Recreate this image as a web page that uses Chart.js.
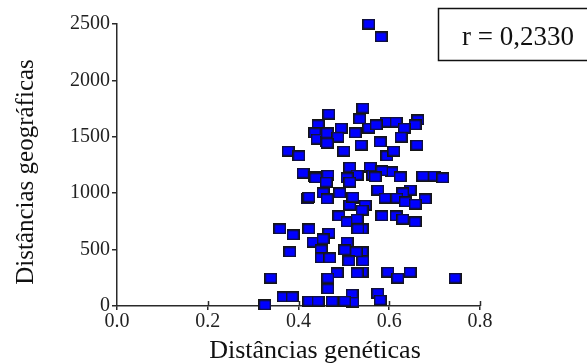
<!DOCTYPE html>
<html>
<head>
<meta charset="utf-8">
<script src="https://cdn.jsdelivr.net/npm/chart.js@4/dist/chart.umd.min.js"></script>
<style>
html,body{margin:0;padding:0;background:#fff;}
#wrap{width:587px;height:363px;position:relative;}
</style>
</head>
<body>
<div id="wrap"><canvas id="c" width="587" height="363"></canvas></div>
<script>
// Data
const genDist = [0.555,0.582,0.467,0.542,0.535,0.443,0.436,0.494,0.525,0.555,
  0.441,0.461,0.500,0.538,0.580,0.593,0.615,0.377,0.401,0.595,
  0.610,0.410,0.436,0.465,0.513,0.558,0.529,0.564,0.606,0.663,
  0.657,0.633,0.626,0.661,0.584,0.674,0.699,0.718,0.569,0.624,
  0.646,0.630,0.575,0.591,0.617,0.679,0.635,0.657,0.547,0.540,
  0.584,0.615,0.630,0.657,0.540,0.540,0.542,0.540,0.597,0.619,
  0.646,0.745,0.575,0.580,0.419,0.454,0.463,0.491,0.518,0.513,
  0.489,0.507,0.529,0.531,0.359,0.388,0.423,0.467,0.432,0.454,
  0.381,0.450,0.450,0.469,0.507,0.502,0.527,0.511,0.485,0.465,
  0.529,0.339,0.465,0.518,0.520,0.366,0.386,0.423,0.443,0.474,
  0.502,0.326,0.463,0.487,0.463,0.438,0.461,0.507,0.513,0.423,
  0.520,0.571];
const geoDist = [2500,2385,1702,1755,1658,1605,1534,1578,1534,1578,
  1480,1454,1374,1427,1454,1631,1631,1374,1330,1330,
  1374,1179,1144,1161,1232,1232,1161,1161,1188,1649,
  1605,1578,1498,1427,1197,1152,1152,1135,1144,1144,
  1028,1002,1028,957,957,949,922,904,895,851,
  798,798,771,745,683,479,399,301,301,248,
  301,248,115,53,949,1002,949,1002,957,895,
  798,745,771,683,683,630,683,647,567,594,
  479,497,426,426,567,497,479,399,293,248,
  293,248,151,106,35,80,80,44,44,44,
  44,9,1534,1498,1445,1135,1099,1135,1099,966,
  966,1605];
const xTickValues = [0, 0.2, 0.4, 0.6, 0.8];
const xTickLabels = ['0.0', '0.2', '0.4', '0.6', '0.8'];
const yTickValues = [0, 500, 1000, 1500, 2000, 2500];
const yTickLabels = ['0', '500', '1000', '1500', '2000', '2500'];
const xTitle = 'Distâncias genéticas';
const yTitle = 'Distâncias geográficas';
const corrText = 'r = 0,2330';

// square marker image
const marker = document.createElement('canvas');
marker.width = 13; marker.height = 11;
(function(){
  const m = marker.getContext('2d');
  m.fillStyle = '#0000ff';
  m.fillRect(0, 0, 13, 11);
  m.strokeStyle = '#151515';
  m.lineWidth = 1.5;
  m.strokeRect(0.75, 0.75, 11.5, 9.5);
})();

const points = genDist.map((x, i) => ({x: x, y: geoDist[i]}));
const axisColor = '#2a2a2a';
const serif = '"Liberation Serif", "Times New Roman", serif';

const extras = {
  id: 'extras',
  afterDraw(chart) {
    const ctx = chart.ctx;
    const xs = chart.scales.x;
    const area = chart.chartArea;
    ctx.save();
    // upper half of the crossing x ticks
    ctx.strokeStyle = axisColor;
    ctx.lineWidth = 1.5;
    xTickValues.forEach(v => {
      if (v === 0) return;
      const px = Math.round(xs.getPixelForValue(v)) + 0.5;
      ctx.beginPath();
      ctx.moveTo(px, area.bottom - 5);
      ctx.lineTo(px, area.bottom);
      ctx.stroke();
    });
    // axis titles
    ctx.fillStyle = '#111';
    ctx.font = '26px ' + serif;
    ctx.textAlign = 'center';
    ctx.textBaseline = 'alphabetic';
    ctx.fillText(xTitle, 315, 358);
    ctx.save();
    ctx.translate(33, 172);
    ctx.rotate(-Math.PI / 2);
    ctx.font = '25px ' + serif;
    ctx.fillText(yTitle, 0, 0);
    ctx.restore();
    // correlation box
    ctx.strokeStyle = '#111';
    ctx.lineWidth = 1.5;
    ctx.strokeRect(438.5, 8.5, 170, 52);
    ctx.font = '27px ' + serif;
    ctx.textAlign = 'left';
    ctx.fillText(corrText, 462, 45);
    ctx.restore();
  }
};

new Chart(document.getElementById('c'), {
  type: 'scatter',
  data: {
    datasets: [{
      data: points,
      pointStyle: marker,
      pointRadius: 6,
      pointHoverRadius: 6,
      backgroundColor: '#0000ff',
      borderColor: '#151515',
      clip: false
    }]
  },
  options: {
    responsive: false,
    animation: false,
    events: [],
    layout: { padding: { left: 0, top: 24, right: 107, bottom: 0 } },
    plugins: { legend: { display: false }, tooltip: { enabled: false } },
    scales: {
      x: {
        type: 'linear',
        min: 0, max: 0.8,
        afterFit(s) { s.height = 57; },
        afterBuildTicks(s) { s.ticks = xTickValues.map(v => ({value: v})); },
        ticks: {
          padding: 0,
          color: '#222',
          font: { family: serif, size: 20 },
          maxRotation: 0,
          callback: (v) => { const i = xTickValues.indexOf(v); return i >= 0 ? xTickLabels[i] : ''; }
        },
        grid: { drawOnChartArea: false, drawTicks: true, tickLength: 4, color: axisColor, lineWidth: 1.5 },
        border: { display: true, color: axisColor, width: 1.5 }
      },
      y: {
        type: 'linear',
        min: 0, max: 2500,
        afterFit(s) { s.width = 117; },
        afterBuildTicks(s) { s.ticks = yTickValues.map(v => ({value: v})); },
        ticks: {
          padding: 2,
          color: '#222',
          font: { family: serif, size: 20 },
          callback: (v) => { const i = yTickValues.indexOf(v); return i >= 0 ? yTickLabels[i] : ''; }
        },
        grid: { drawOnChartArea: false, drawTicks: true, tickLength: 5, color: axisColor, lineWidth: 1.5 },
        border: { display: true, color: axisColor, width: 1.5 }
      }
    }
  },
  plugins: [extras]
});
</script>
</body>
</html>
